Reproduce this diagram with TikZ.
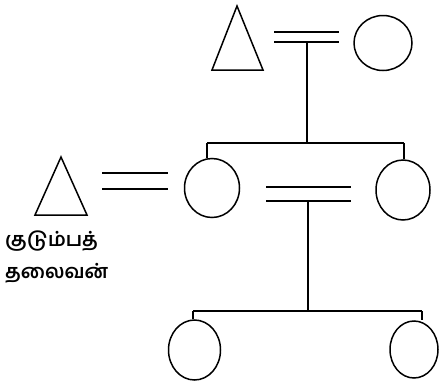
\documentclass[tikz,border=0pt]{standalone}
\usepackage{fontspec}
\newfontfamily\tamilfont[Script=Tamil]{Hind Madurai}
\usetikzlibrary{shapes.geometric}
\tikzset{
  fem/.style={draw, ellipse, inner sep=0pt, line width=1.5pt},
  male/.style={line width=1.5pt, line join=miter},
  link/.style={line width=1.4pt},
  lbl/.style={anchor=west, inner sep=0pt, font=\tamilfont\bfseries\fontsize{19.5}{22}\selectfont}
}
\begin{document}
\begin{tikzpicture}[x=1pt,y=-1pt]
\useasboundingbox (0,0) rectangle (439,383);
% top generation
\draw[male] (212,70) coordinate (t1l) -- (237,6) -- (263,70) coordinate (t1r) -- cycle;
\node[fem, minimum width=58pt, minimum height=55pt] (w1) at (383,43) {};
\coordinate (mA1) at (274,32); \coordinate (mA2) at (339,32);
\coordinate (mA3) at (274,42); \coordinate (mA4) at (339,42);
\draw[link] (mA1) -- (mA2);
\draw[link] (mA3) -- (mA4);
\coordinate (dA) at (307,42);
\coordinate (jA) at (307,143);
\coordinate (jAl) at (207,143);
\coordinate (jAr) at (404,143);
\draw[link] (dA) -- (jA);
\draw[link] (jAl) -- (jAr);
% middle generation
\node[fem, minimum width=55pt, minimum height=59pt] (c1) at (212,188) {};
\node[fem, minimum width=54pt, minimum height=60pt] (c2) at (403,190) {};
\draw[link] (jAl) -- (jAl |- c1.north);
\draw[link] (jAr) -- (jAr |- c2.north);
\draw[male] (35,215) -- (61,157) -- (87,215) -- cycle;
\coordinate (mB1) at (102,173); \coordinate (mB2) at (168,173);
\coordinate (mB3) at (102,189); \coordinate (mB4) at (168,189);
\draw[link] (mB1) -- (mB2);
\draw[link] (mB3) -- (mB4);
\coordinate (mC1) at (266,187); \coordinate (mC2) at (351,187);
\coordinate (mC3) at (266,201); \coordinate (mC4) at (351,201);
\draw[link] (mC1) -- (mC2);
\draw[link] (mC3) -- (mC4);
\coordinate (dC) at (308,201);
\coordinate (jC) at (308,311);
\coordinate (jCl) at (193,311);
\coordinate (jCr) at (422,311);
\draw[link] (dC) -- (jC);
\draw[link] (jCl) -- (jCr);
% bottom generation
\node[fem, minimum width=52pt, minimum height=60pt] (g1) at (194.5,350) {};
\node[fem, minimum width=48pt, minimum height=57pt] (g2) at (414,349.5) {};
\draw[link] (jCl) -- (jCl |- g1.north);
\draw[link] (jCr) -- (jCr |- g2.north);
% label
\node[lbl] (l1) at (5,241) {குடும்பத்};
\node[lbl] (l2) at (5,273) {தலைவன்};
\end{tikzpicture}
\end{document}
